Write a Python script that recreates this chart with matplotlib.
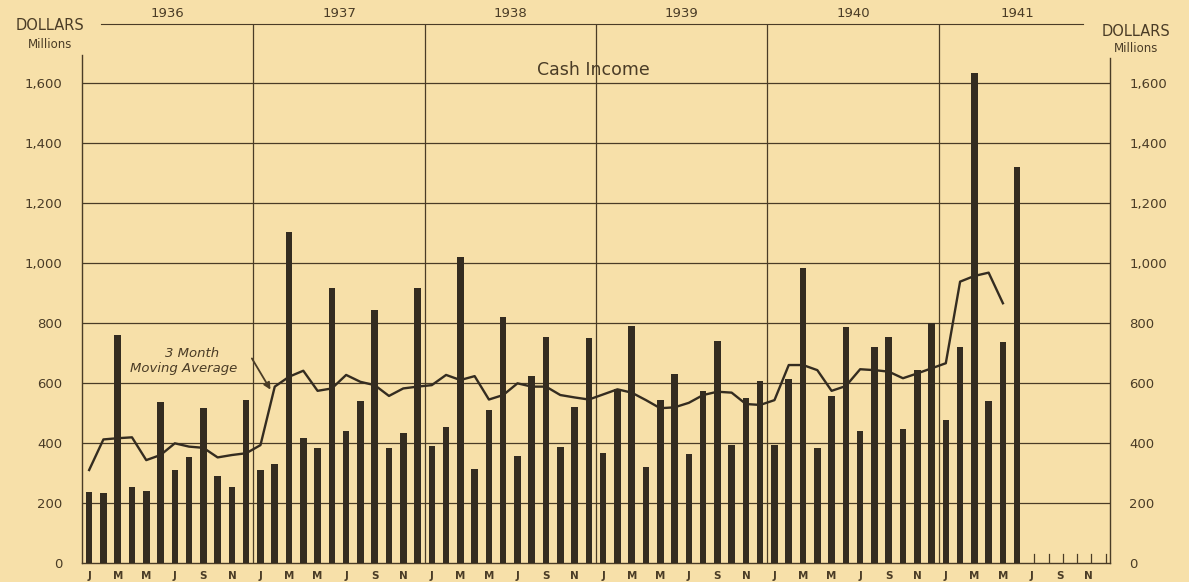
import matplotlib
matplotlib.use("Agg")
import matplotlib.pyplot as plt
import numpy as np

# monthly cash income, millions of dollars, Jan 1936 - Jun 1941
income = [
    238, 234, 760, 254, 240, 538, 310, 352, 518, 291, 254, 545,      # 1936
    310, 330, 1104, 418, 382, 918, 441, 541, 843, 382, 432, 918,     # 1937
    390, 454, 1021, 312, 510, 819, 357, 623, 754, 386, 519, 749,     # 1938
    366, 579, 790, 319, 545, 630, 363, 574, 741, 393, 549, 607,      # 1939
    393, 613, 983, 384, 558, 786, 441, 721, 754, 446, 643, 799,      # 1940
    477, 719, 1634, 541, 738, 1321,                                  # 1941
]
# 3 month moving average, Jan 1936 - May 1941
moving_avg = [
    310, 412, 416, 419, 343, 360, 399, 388, 384, 352, 360, 366,
    393, 588, 621, 641, 574, 582, 627, 604, 593, 557, 582, 588,
    593, 627, 610, 623, 545, 560, 599, 588, 588, 560, 552, 545,
    562, 579, 568, 543, 516, 519, 534, 560, 571, 568, 530, 527,
    543, 660, 660, 643, 574, 590, 646, 643, 638, 616, 632, 649,
    666, 938, 957, 968, 866,
]
years = ["1936", "1937", "1938", "1939", "1940", "1941"]
month_letters = ["J", "M", "M", "J", "S", "N"]
yticks = [0, 200, 400, 600, 800, 1000, 1200, 1400, 1600]
ytick_labels = ["0", "200", "400", "600", "800", "1,000", "1,200", "1,400", "1,600"]

bg = "#f7e0a9"
ink = "#4a3c26"
bar_col = "#342c20"

plt.rcParams['font.family'] = ['DejaVu Sans']

fig = plt.figure(figsize=(11.89, 5.82), dpi=100)
fig.patch.set_facecolor(bg)
ax = fig.add_axes([82/1189, 1 - 563/582, (1110 - 82)/1189, (563 - 24)/582])
ax.set_facecolor(bg)

top = 1797
ax.set_xlim(0, 72)
ax.set_ylim(0, top)

# grid
for v in yticks[1:]:
    ax.axhline(v, color=ink, lw=0.9, zorder=1)
for k in range(1, 6):
    ax.axvline(12 * k, color=ink, lw=0.9, zorder=1)
ax.plot([1.3, 70.1], [top, top], color=ink, lw=0.8, clip_on=False, zorder=1)

# bars
xs = np.arange(len(income)) + 0.5
ax.bar(xs, income, width=0.46, color=bar_col, zorder=3)

# empty months at the end
for m in range(len(income), 72):
    ax.plot([m + 0.7, m + 0.7], [0, 30], color=ink, lw=0.9, zorder=3)

# moving average
xm = np.arange(len(moving_avg)) + 0.5
ax.plot(xm, moving_avg, color=bar_col, lw=1.7, zorder=4)

ax.text(7.7, 700, "3 Month", ha="center", va="center", style="italic",
        fontsize=9.5, color=ink, zorder=5)
ax.text(7.1, 650, "Moving Average", ha="center", va="center", style="italic",
        fontsize=9.5, color=ink, zorder=5)
ax.annotate("", xy=(13.3, 570), xytext=(11.8, 690),
            arrowprops=dict(arrowstyle="-|>", color=ink, lw=1.3,
                            mutation_scale=10), zorder=5)

ax.text(35.8, 1645, "Cash Income", ha="center", va="center", fontsize=12.5,
        color=ink, zorder=5)

# spines
ax.spines["top"].set_visible(False)
ax.spines["left"].set_bounds(0, 1693)
ax.spines["right"].set_bounds(0, 1683)
for s in ["left", "right", "bottom"]:
    ax.spines[s].set_color(ink)
    ax.spines[s].set_linewidth(1.0)

ax.set_yticks(yticks)
ax.set_yticklabels(ytick_labels)
ax.tick_params(axis="y", length=0, pad=14, labelsize=9.5, labelcolor=ink,
               left=True, right=True, labelleft=True, labelright=True)

mt = []
ml = []
for y in range(6):
    for j, l in enumerate(month_letters):
        mt.append(12 * y + 2 * j + 0.5)
        ml.append(l)
ax.set_xticks(mt)
ax.set_xticklabels(ml, fontsize=7.5, fontweight="bold", color=ink)
ax.tick_params(axis="x", length=0, pad=6)

# year labels above
for i, yr in enumerate(years):
    ax.text(12 * i + 6 - (0.5 if i == 5 else 0), top + 14, yr, ha="center", va="bottom",
            fontsize=9.5, color=ink, clip_on=False)

fig.text(50/1189, 1 - 25/582, "DOLLARS", ha="center", va="center", fontsize=10.5, color=ink)
fig.text(50/1189, 1 - 44/582, "Millions", ha="center", va="center", fontsize=8.5, color=ink)
fig.text(1136/1189, 1 - 31/582, "DOLLARS", ha="center", va="center", fontsize=10.5, color=ink)
fig.text(1136/1189, 1 - 48/582, "Millions", ha="center", va="center", fontsize=8.5, color=ink)

fig.savefig("out.png", dpi=100, facecolor=bg)
